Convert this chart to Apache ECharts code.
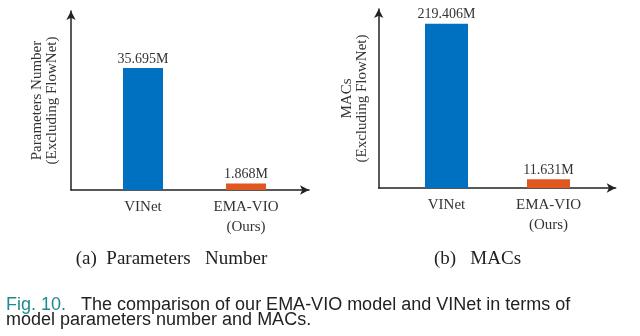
<!DOCTYPE html>
<html>
<head>
<meta charset="utf-8">
<script src="https://cdn.jsdelivr.net/npm/echarts@6/dist/echarts.min.js"></script>
<style>html,body{margin:0;padding:0;background:#fff;}#c{width:640px;height:336px;}</style>
</head>
<body>
<div id="c"></div>
<script>
const categories = ['VINet', 'EMA-VIO\n(Ours)'];
const paramValues = [35.695, 1.868];
const macValues = [219.406, 11.631];
const barColors = ['#0070C0', '#E0571F'];
const yNames = ['Parameters Number\n(Excluding FlowNet)', 'MACs\n(Excluding FlowNet)'];
const subCaptions = ['(a)  Parameters   Number', '(b)   MACs'];
const captionLead = 'Fig. 10.';
const captionText = '   The comparison of our EMA-VIO model and VINet in terms of\nmodel parameters number and MACs.';

const serif = '"Liberation Serif", "Times New Roman", serif';
const sans = '"Liberation Sans", Arial, sans-serif';
const textColor = '#333';
const axisColor = '#222';

function frameAxes(gridIndex, name, gap) {
  const line = { show: true, symbol: ['none', 'arrow'], symbolSize: [7, 9], lineStyle: { color: axisColor, width: 1.5 } };
  return {
    x: { type: 'value', gridIndex, min: 0, max: 1, axisLine: line, axisTick: { show: false }, axisLabel: { show: false }, splitLine: { show: false } },
    y: { type: 'value', gridIndex, min: 0, max: 1, axisLine: line, axisTick: { show: false }, axisLabel: { show: false }, splitLine: { show: false },
         name, nameLocation: 'middle', nameRotate: 90, nameGap: gap,
         nameTextStyle: { fontFamily: serif, fontSize: 15, color: textColor, lineHeight: 15 } }
  };
}
function barAxes(gridIndex, max) {
  return {
    x: { type: 'category', gridIndex, data: categories, axisLine: { show: false }, axisTick: { show: false },
         axisLabel: { margin: 7, fontFamily: serif, fontSize: 15, color: textColor, lineHeight: 20 } },
    y: { type: 'value', gridIndex, min: 0, max, show: false, splitLine: { show: false } }
  };
}
function barSeries(idx, values, width) {
  return {
    type: 'bar', xAxisIndex: idx, yAxisIndex: idx, barWidth: width,
    data: values.map((v, i) => ({ value: v, itemStyle: { color: barColors[i] } })),
    label: { show: true, position: 'top', distance: 2, formatter: '{c}M', fontFamily: serif, fontSize: 14, color: textColor },
    animation: false
  };
}

const fa = frameAxes(0, yNames[0], 11);
const fb = frameAxes(1, yNames[1], 9);
const ba = barAxes(2, 50);
const bb = barAxes(3, 240);

const option = {
  backgroundColor: '#fff',
  animation: false,
  grid: [
    { left: 71, top: 11, width: 238, height: 179 },
    { left: 378.7, top: 9, width: 237, height: 179 },
    { left: 91.5, top: 19, width: 206, height: 171 },
    { left: 395.5, top: 8.3, width: 204, height: 179.7 }
  ],
  xAxis: [fa.x, fb.x, ba.x, bb.x],
  yAxis: [fa.y, fb.y, ba.y, bb.y],
  series: [barSeries(2, paramValues, 40), barSeries(3, macValues, 43)],
  title: [
    { text: subCaptions[0], left: 166.5, top: 245, textAlign: 'center',
      textStyle: { fontFamily: serif, fontSize: 19, fontWeight: 'normal', color: '#222' } },
    { text: subCaptions[1], left: 472.5, top: 245, textAlign: 'center',
      textStyle: { fontFamily: serif, fontSize: 19, fontWeight: 'normal', color: '#222' } },
    { text: '{t|' + captionLead + '}' + captionText, left: 1, top: 292,
      textStyle: { fontFamily: sans, fontSize: 18, fontWeight: 'normal', color: '#222', lineHeight: 15.5,
        rich: { t: { color: '#1f8a8c', fontFamily: sans, fontSize: 18, lineHeight: 15.5 } } } }
  ]
};
const chart = echarts.init(document.getElementById('c'), null, { renderer: 'canvas' });
chart.setOption(option);
</script>
</body>
</html>
